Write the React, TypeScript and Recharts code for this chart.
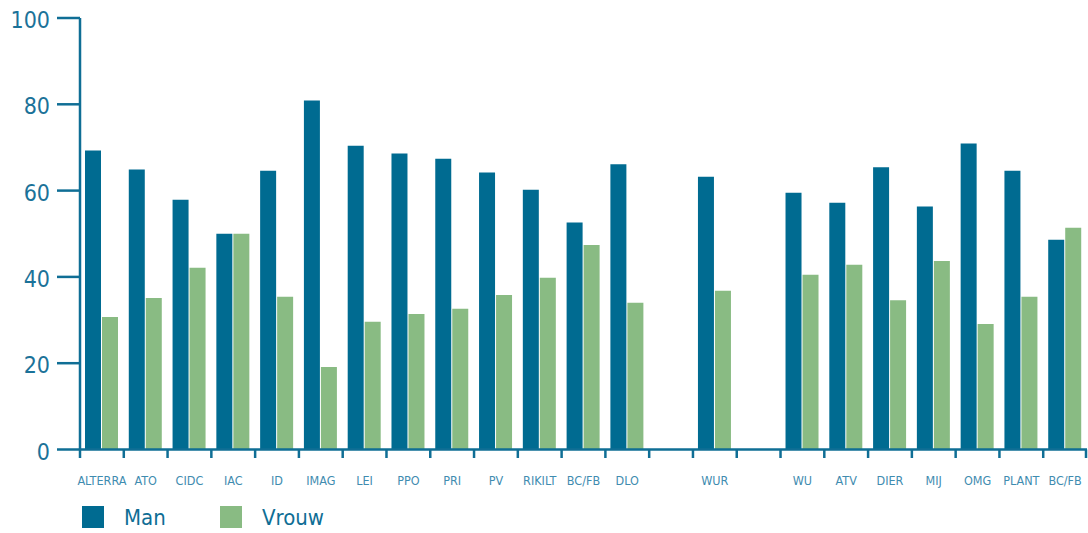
import { BarChart, Bar, XAxis, YAxis, Legend } from 'recharts';

const categories = [
    'ALTERRA', 'ATO', 'CIDC', 'IAC', 'ID', 'IMAG', 'LEI', 'PPO', 'PRI', 'PV', 'RIKILT', 'BC/FB', 'DLO',
    '', 'WUR', '', 'WU', 'ATV', 'DIER', 'MIJ', 'OMG', 'PLANT', 'BC/FB',
];
const manValues = [
    69.3, 64.9, 57.9, 50.0, 64.6, 80.9, 70.4, 68.6, 67.4, 64.2, 60.2, 52.6, 66.1,
    null, 63.2, null, 59.5, 57.2, 65.4, 56.3, 70.9, 64.6, 48.6,
];
const vrouwValues = [
    30.7, 35.1, 42.1, 50.0, 35.4, 19.1, 29.6, 31.4, 32.6, 35.8, 39.8, 47.4, 34.0,
    null, 36.8, null, 40.5, 42.8, 34.6, 43.7, 29.1, 35.4, 51.4,
];
const yTicks = [0, 20, 40, 60, 80, 100];

const W = 1088;
const H = 533;
const margin = { top: 18, right: 1, bottom: 5, left: 0 };
const yAxisWidth = 80;
const AXIS = '#0f6e95';
const MAN = '#006b91';
const VROUW = '#89bb83';
const FONT = '"Liberation Sans Narrow", "DejaVu Sans Condensed", "Liberation Sans", sans-serif';

const data = categories.map((name, i) => ({ name, man: manValues[i], vrouw: vrouwValues[i] }));

// band width of one category, used to put the x ticks on the boundaries
const band = (W - margin.left - margin.right - yAxisWidth) / categories.length;

const CategoryTick = ({ x, y, payload, index }: any) => (
    <g>
        <line x1={x - band / 2} x2={x - band / 2} y1={y} y2={y + 8.5} stroke={AXIS} strokeWidth={2.5} />
        {index === categories.length - 1 && (
            <line x1={x + band / 2 - 1} x2={x + band / 2 - 1} y1={y} y2={y + 8.5} stroke={AXIS} strokeWidth={2.5} />
        )}
        <text x={x} y={y + 35} textAnchor="middle" fill="#3f8cb0" fontSize={12.5} fontFamily={FONT}>
            {payload.value}
        </text>
    </g>
);

const legendItems = [
    { label: 'Man', color: MAN, left: 0 },
    { label: 'Vrouw', color: VROUW, left: 138 },
];

const LegendContent = () => (
    <div style={{ position: 'relative', height: 22, width: 300, fontFamily: FONT }}>
        {legendItems.map((it) => (
            <div key={it.label}>
                <span style={{ position: 'absolute', left: it.left, top: 0, width: 22, height: 22, background: it.color }} />
                <span style={{ position: 'absolute', left: it.left + 42, top: 0, fontSize: 22, color: AXIS, lineHeight: '24px' }}>
                    {it.label}
                </span>
            </div>
        ))}
    </div>
);

export default function App() {
    return (
        <div style={{ position: 'absolute', left: 0, top: 0, background: '#fff' }}>
            <BarChart width={W} height={H} data={data} margin={margin} barGap={1} barSize={16}>
                <XAxis
                    dataKey="name"
                    stroke={AXIS}
                    strokeWidth={2.5}
                    tickLine={false}
                    tickSize={0}
                    tickMargin={0}
                    interval={0}
                    height={56.5}
                    tick={<CategoryTick />}
                />
                <YAxis
                    domain={[0, 100]}
                    ticks={yTicks}
                    width={yAxisWidth}
                    stroke={AXIS}
                    strokeWidth={2.5}
                    tickSize={23}
                    tickMargin={7}
                    tick={{ fill: '#1b7299', fontSize: 23, fontFamily: FONT, dy: 2 }}
                />
                <Legend
                    verticalAlign="bottom"
                    align="left"
                    content={<LegendContent />}
                    wrapperStyle={{ left: 82, width: 300, height: 22 }}
                />
                <Bar dataKey="man" name="Man" fill={MAN} isAnimationActive={false} />
                <Bar dataKey="vrouw" name="Vrouw" fill={VROUW} isAnimationActive={false} />
            </BarChart>
        </div>
    );
}
